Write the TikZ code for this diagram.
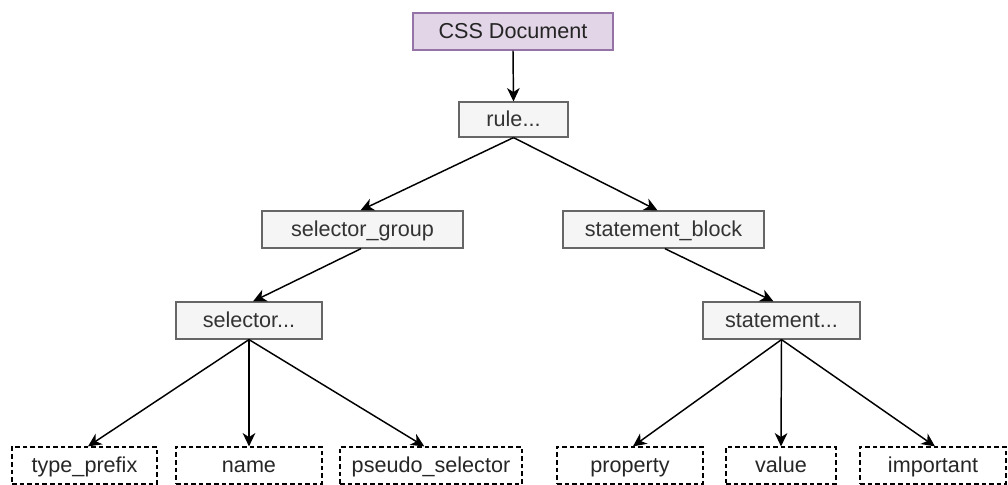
\documentclass[tikz,border=0pt]{standalone}
\usepackage{fontspec}
\setmainfont{Liberation Sans}
\usetikzlibrary{arrows.meta}
\definecolor{purplefill}{HTML}{E1D5E7}
\definecolor{purpleline}{HTML}{9673A6}
\definecolor{grayfill}{HTML}{F5F5F5}
\definecolor{grayline}{HTML}{666666}
\definecolor{graytext}{HTML}{333333}
\begin{document}
\begin{tikzpicture}[x=0.75pt,y=-0.75pt,
  base/.style={rectangle,inner sep=0pt,minimum height=27.75pt,text height=11.6pt,text depth=1.8pt,font=\fontsize{16.2}{19}\selectfont},
  docbox/.style={base,draw=purpleline,fill=purplefill,line width=0.9pt,text=graytext!70!black},
  graybox/.style={base,draw=grayline,fill=grayfill,line width=0.9pt,text=graytext},
  dashbox/.style={base,draw=black,fill=white,line width=0.9pt,dash pattern=on 3.4pt off 2.3pt,text=black!85},
  arr/.style={draw=black,line width=1.1pt,-{Stealth[length=10pt,width=9.5pt,inset=3pt]}}
]
\useasboundingbox (0,0) rectangle (1008,485);
\node[docbox,minimum width=150pt] (doc) at (513,31.5) {CSS Document};
\node[graybox,minimum width=81.75pt,minimum height=26.25pt] (rule) at (513.5,119.5) {rule...};
\node[graybox,minimum width=150.75pt] (sg) at (362.5,229.5) {selector\_group};
\node[graybox,minimum width=150.75pt] (sb) at (663.5,229.5) {statement\_block};
\node[graybox,minimum width=109.5pt] (sel) at (249,320.5) {selector...};
\node[graybox,minimum width=117.75pt] (st) at (781.5,320.5) {statement...};
\node[dashbox,minimum width=108.75pt] (tp) at (84.5,465.5) {type\_prefix};
\node[dashbox,minimum width=109.5pt] (nm) at (249,465.5) {name};
\node[dashbox,minimum width=136.5pt] (ps) at (431,465.5) {pseudo\_selector};
\node[dashbox,minimum width=109.5pt] (pr) at (630,465.5) {property};
\node[dashbox,minimum width=82.5pt] (va) at (781,465.5) {value};
\node[dashbox,minimum width=109.5pt] (im) at (933,465.5) {important};
\draw[arr] (doc.south) -- (rule.north);
\draw[arr] (rule.south) -- ([xshift=-1.5pt]sg.north);
\draw[arr] (rule.south) -- ([xshift=-4.5pt]sb.north);
\draw[arr] ([xshift=-1pt]sg.south) -- ([xshift=3pt]sel.north);
\draw[arr] ([xshift=1pt]sb.south) -- ([xshift=-6pt]st.north);
\draw[arr] (sel.south) -- ([xshift=2.6pt]tp.north);
\draw[arr] (sel.south) -- (nm.north);
\draw[arr] (sel.south) -- ([xshift=-5pt]ps.north);
\draw[arr] (st.south) -- ([xshift=2.2pt]pr.north);
\draw[arr] (st.south) -- (va.north);
\draw[arr] (st.south) -- ([xshift=1.5pt]im.north);
\end{tikzpicture}
\end{document}
